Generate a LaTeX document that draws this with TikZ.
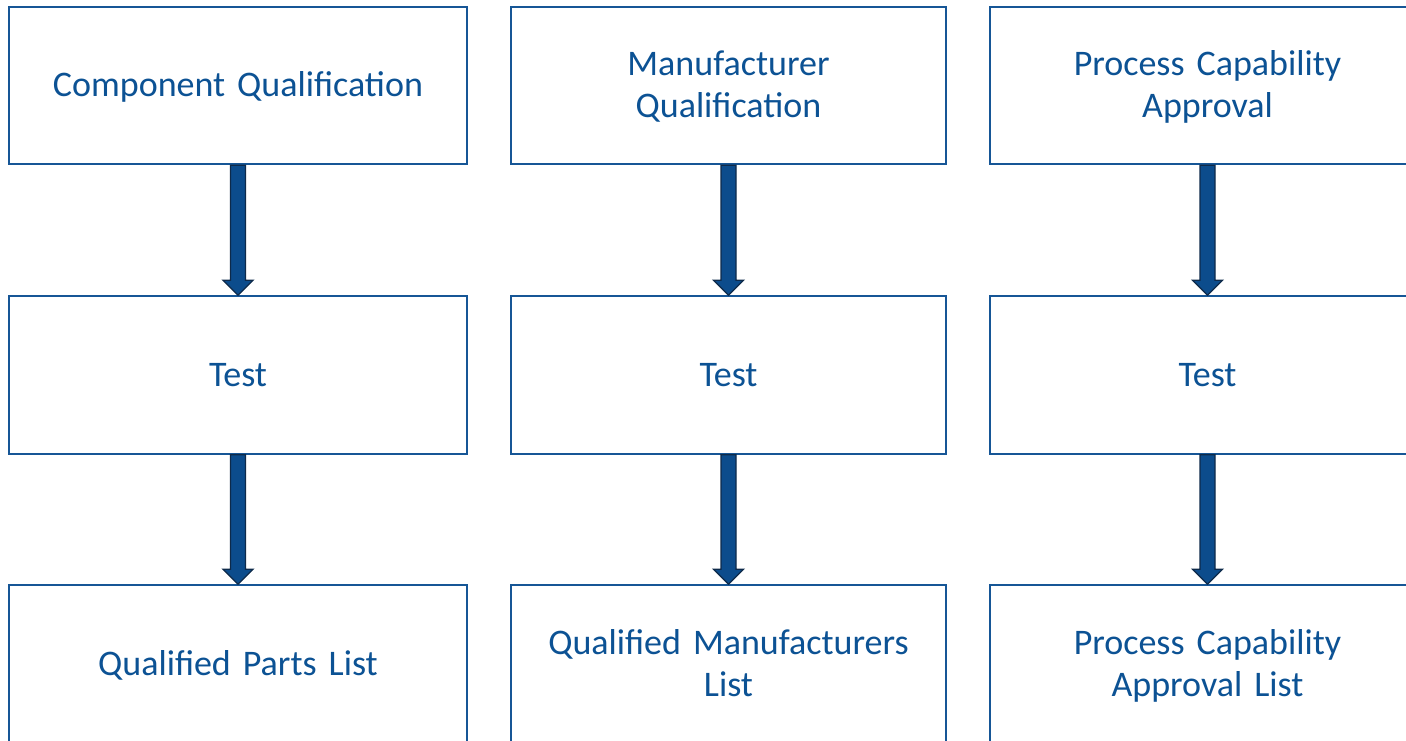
\documentclass[tikz,border=0pt]{standalone}
\usepackage{fontspec}
\setmainfont[WordSpace=0.8]{Carlito}
\usetikzlibrary{calc}
\definecolor{boxline}{RGB}{22,86,150}
\definecolor{boxtext}{RGB}{12,82,148}
\definecolor{arrowfill}{RGB}{12,76,140}
\definecolor{arrowline}{RGB}{14,42,74}
\begin{document}
\begin{tikzpicture}[x=1pt,y=-1pt,
  stage/.style={draw=boxline, line width=2pt, fill=white, minimum height=157.5pt,
    inner sep=0pt, align=center, text=boxtext,
    font=\fontsize{36}{42}\selectfont,
    text height=23pt, text depth=0pt},
  twoline/.style={text depth=42pt},
  wide/.style={stage, minimum width=458pt, text width=440pt},
  narrow/.style={stage, minimum width=435pt, text width=420pt},
  blockarrow/.style={fill=arrowfill, draw=arrowline, line width=1.3pt, line join=miter,
    to path={let \p1=(\tikztostart), \p2=(\tikztotarget) in
      (\x1-7.5pt,\y1) -- (\x1+7.5pt,\y1) -- (\x1+7.5pt,\y2+15pt) -- (\x1+15pt,\y2+15pt)
      -- (\x1,\y2) -- (\x1-15pt,\y2+15pt) -- (\x1-7.5pt,\y2+15pt) -- cycle}}]
\useasboundingbox (0,0) rectangle (1406,741);

% left column: components
\node[wide] (c1) at (238,85.5) {Component Qualification};
\node[wide] (c2) at (238,375) {Test};
\node[wide] (c3) at (238,664) {Qualified Parts List};

% middle column: manufacturers
\node[narrow,twoline] (m1) at (728.5,85.5) {Manufacturer\\Qualification};
\node[narrow] (m2) at (728.5,375) {Test};
\node[narrow,twoline] (m3) at (728.5,664) {Qualified Manufacturers\\List};

% right column: process capability
\node[narrow,twoline] (p1) at (1207.5,85.5) {Process Capability\\Approval};
\node[narrow] (p2) at (1207.5,375) {Test};
\node[narrow,twoline] (p3) at (1207.5,664) {Process Capability\\Approval List};

% flow arrows
\foreach \a/\b in {c1/c2,c2/c3,m1/m2,m2/m3,p1/p2,p2/p3}
  \path[blockarrow] (\a.south) to (\b.north);
\end{tikzpicture}
\end{document}
